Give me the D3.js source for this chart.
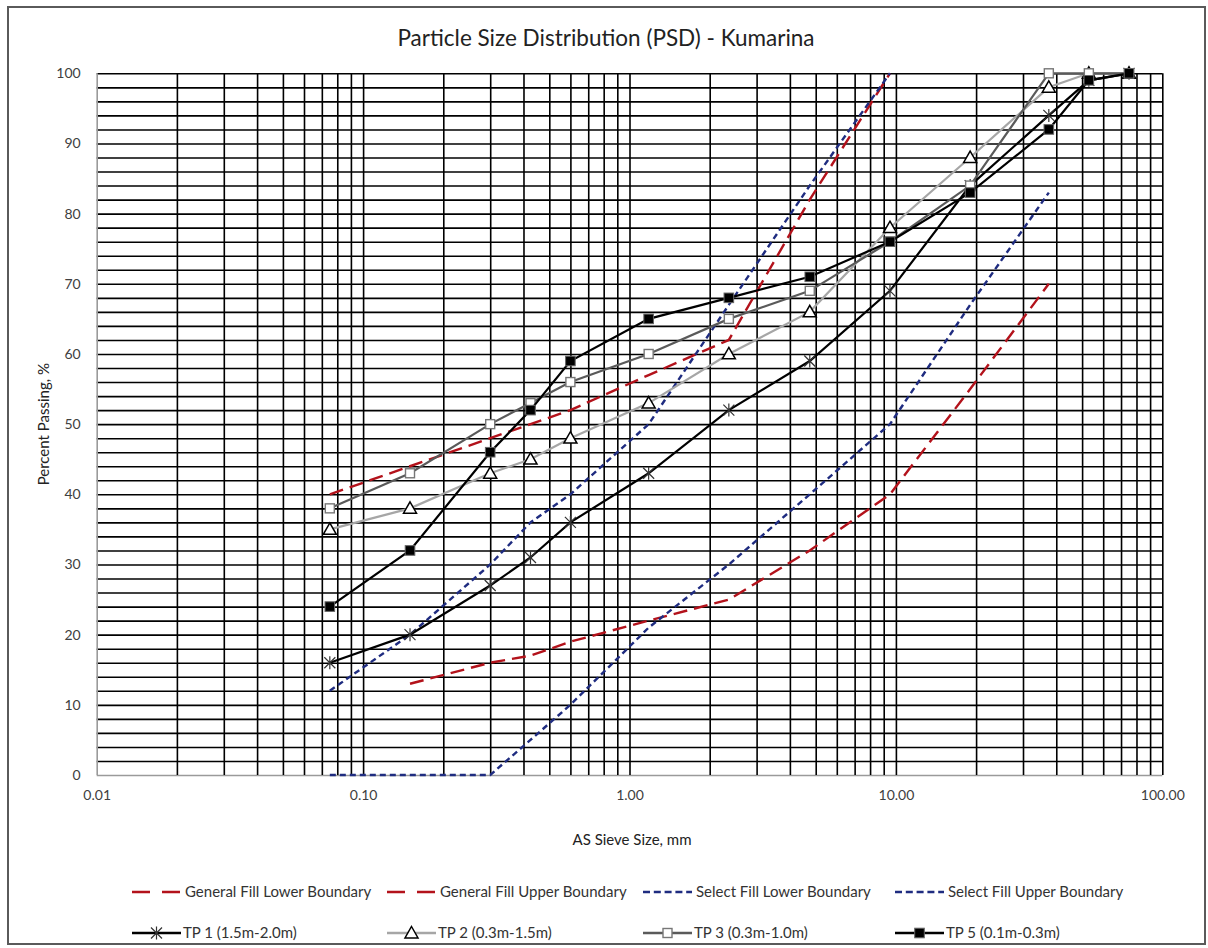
<!DOCTYPE html>
<html>
<head>
<meta charset="utf-8">
<script src="https://cdn.jsdelivr.net/npm/d3@7"></script>
<style>
  body { margin: 0; background: #fff; }
  svg { display: block; font-family: Lato, "Open Sans", sans-serif; }
</style>
</head>
<body>
<svg id="chart" width="1208" height="948"></svg>
<script>
// sieve sizes (mm) for the test pits
const sieveSizes = [0.075, 0.15, 0.3, 0.425, 0.6, 1.18, 2.36, 4.75, 9.5, 19, 37.5, 53, 75];

// percent passing for each test pit
const tp1 = [16, 20, 27, 31, 36, 43, 52, 59, 69, 84, 94, 99, 100];
const tp2 = [35, 38, 43, 45, 48, 53, 60, 66, 78, 88, 98, 100, 100];
const tp3 = [38, 43, 50, 53, 56, 60, 65, 69, 76, 84, 100, 100, 100];
const tp5 = [24, 32, 46, 52, 59, 65, 68, 71, 76, 83, 92, 99, 100];

// grading envelopes
const generalLowerSizes = [0.15, 0.3, 0.425, 0.6, 1.18, 2.36, 4.75, 9.5, 19, 37.5];
const generalLower = [13, 16, 17, 19, 22, 25, 32, 40, 55, 70];
const generalUpperSizes = [0.075, 0.15, 0.3, 0.425, 0.6, 1.18, 2.36, 4.75, 9.5];
const generalUpper = [40, 44, 48, 50, 52, 57, 62, 82, 100];
const selectLowerSizes = [0.075, 0.15, 0.3, 0.425, 0.6, 1.18, 2.36, 4.75, 9.5, 19, 37.5];
const selectLower = [0, 0, 0, 5, 10, 21, 30, 40, 50, 67, 83];
const selectUpperSizes = [0.075, 0.15, 0.3, 0.425, 0.6, 1.18, 2.36, 4.75, 9.5];
const selectUpper = [12, 20, 30, 36, 40, 50, 67, 84, 100];

const xTickValues = [0.01, 0.1, 1, 10, 100];
const yTickValues = [0, 10, 20, 30, 40, 50, 60, 70, 80, 90, 100];

const RED = "#b3121b";
const NAVY = "#1f2c80";

const svg = d3.select("#chart");

// outer chart border
svg.append("rect")
  .attr("x", 8).attr("y", 7)
  .attr("width", 1197).attr("height", 937)
  .attr("fill", "none")
  .attr("stroke", "#5a5a5a")
  .attr("stroke-width", 2);

const plotLeft = 96.7, plotRight = 1162.3, plotTop = 73.3, plotBottom = 775;

const x = d3.scaleLog().domain([0.01, 100]).range([plotLeft, plotRight]);
const y = d3.scaleLinear().domain([0, 100]).range([plotBottom, plotTop]);

// minor log values for vertical grid
const xGrid = [];
for (let d = -2; d <= 1; d++) {
  for (let k = 1; k <= 9; k++) xGrid.push(k * Math.pow(10, d));
}
xGrid.push(100);
const yGrid = d3.range(0, 101, 2);

// horizontal grid
svg.append("g")
  .attr("class", "ygrid")
  .attr("transform", `translate(${plotLeft},0)`)
  .call(d3.axisLeft(y).tickValues(yGrid).tickSize(-(plotRight - plotLeft)).tickFormat(""))
  .call(g => g.select(".domain").remove())
  .call(g => g.selectAll("line")
    .attr("stroke", d => d === 0 ? "#9a9a9a" : "#000")
    .attr("stroke-width", 1.6));

// vertical grid
svg.append("g")
  .attr("class", "xgrid")
  .attr("transform", `translate(0,${plotBottom})`)
  .call(d3.axisBottom(x).tickValues(xGrid).tickSize(-(plotBottom - plotTop)).tickFormat(""))
  .call(g => g.select(".domain").remove())
  .call(g => g.selectAll("line")
    .attr("stroke", d => Math.abs(d - 0.01) < 1e-9 ? "#9a9a9a" : "#000")
    .attr("stroke-width", 1.6));

// tick labels
svg.append("g")
  .attr("transform", `translate(0,${plotBottom + 12})`)
  .call(d3.axisBottom(x).tickValues(xTickValues).tickSize(0).tickFormat(d3.format(".2f")))
  .call(g => g.select(".domain").remove())
  .call(g => g.selectAll("text")
    .attr("font-family", "Lato, sans-serif")
    .attr("font-size", 14)
    .attr("fill", "#404040"));

svg.append("g")
  .attr("transform", `translate(${plotLeft - 13},0)`)
  .call(d3.axisLeft(y).tickValues(yTickValues).tickSize(0))
  .call(g => g.select(".domain").remove())
  .call(g => g.selectAll("text")
    .attr("font-family", "Lato, sans-serif")
    .attr("font-size", 14)
    .attr("fill", "#404040"));

// titles
svg.append("text")
  .attr("x", 606).attr("y", 46)
  .attr("text-anchor", "middle")
  .attr("font-size", 22.5)
  .attr("fill", "#222")
  .text("Particle Size Distribution (PSD) - Kumarina");

svg.append("text")
  .attr("x", 632).attr("y", 845)
  .attr("text-anchor", "middle")
  .attr("font-size", 15)
  .attr("fill", "#222")
  .text("AS Sieve Size, mm");

svg.append("text")
  .attr("transform", `translate(49,${(plotTop + plotBottom) / 2}) rotate(-90)`)
  .attr("text-anchor", "middle")
  .attr("font-size", 15)
  .attr("fill", "#222")
  .text("Percent Passing, %");

const line = d3.line()
  .x(d => x(d[0]))
  .y(d => y(d[1]));

const envelopes = [
  { name: "General Fill Lower Boundary", sizes: generalLowerSizes, values: generalLower, color: RED, dash: "14,7" },
  { name: "General Fill Upper Boundary", sizes: generalUpperSizes, values: generalUpper, color: RED, dash: "14,7" },
  { name: "Select Fill Lower Boundary", sizes: selectLowerSizes, values: selectLower, color: NAVY, dash: "6,4" },
  { name: "Select Fill Upper Boundary", sizes: selectUpperSizes, values: selectUpper, color: NAVY, dash: "6,4" }
];

const pits = [
  { name: "TP 1 (1.5m-2.0m)", values: tp1, color: "#000", marker: "star" },
  { name: "TP 2 (0.3m-1.5m)", values: tp2, color: "#a6a6a6", marker: "triangle" },
  { name: "TP 3 (0.3m-1.0m)", values: tp3, color: "#5a5a5a", marker: "square" },
  { name: "TP 5 (0.1m-0.3m)", values: tp5, color: "#000", marker: "filled" }
];

svg.append("g")
  .selectAll("path")
  .data(envelopes)
  .enter()
  .append("path")
  .attr("d", s => line(s.sizes.map((v, i) => [v, s.values[i]])))
  .attr("fill", "none")
  .attr("stroke", s => s.color)
  .attr("stroke-width", 2.4)
  .attr("stroke-dasharray", s => s.dash);

function drawMarker(g, type, cx, cy) {
  if (type === "star") {
    const r = 5.5;
    g.append("path")
      .attr("d", `M${cx - r},${cy - r}L${cx + r},${cy + r}M${cx - r},${cy + r}L${cx + r},${cy - r}M${cx},${cy - r - 1}L${cx},${cy + r + 1}`)
      .attr("stroke", "#333")
      .attr("stroke-width", 1.2)
      .attr("fill", "none");
  } else if (type === "triangle") {
    const r = 6.5;
    g.append("path")
      .attr("d", `M${cx},${cy - r}L${cx + r},${cy + r * 0.75}L${cx - r},${cy + r * 0.75}Z`)
      .attr("stroke", "#000")
      .attr("stroke-width", 1.5)
      .attr("fill", "#fff");
  } else if (type === "square") {
    const r = 4.5;
    g.append("rect")
      .attr("x", cx - r).attr("y", cy - r)
      .attr("width", 2 * r).attr("height", 2 * r)
      .attr("stroke", "#777")
      .attr("stroke-width", 1.4)
      .attr("fill", "#fff");
  } else {
    const r = 4.8;
    g.append("rect")
      .attr("x", cx - r).attr("y", cy - r)
      .attr("width", 2 * r).attr("height", 2 * r)
      .attr("stroke", "#666")
      .attr("stroke-width", 1)
      .attr("fill", "#000");
  }
}

pits.forEach(s => {
  const g = svg.append("g");
  g.append("path")
    .attr("d", line(sieveSizes.map((v, i) => [v, s.values[i]])))
    .attr("fill", "none")
    .attr("stroke", s.color)
    .attr("stroke-width", 2.2);
  sieveSizes.forEach((v, i) => drawMarker(g, s.marker, x(v), y(s.values[i])));
});

// legend
const legendCols = [132, 387, 643, 895];
const legend = svg.append("g").attr("font-size", 15).attr("fill", "#333");

envelopes.forEach((s, i) => {
  const lx = legendCols[i], ly = 892;
  legend.append("line")
    .attr("x1", lx).attr("x2", lx + 49)
    .attr("y1", ly).attr("y2", ly)
    .attr("stroke", s.color)
    .attr("stroke-width", 2.4)
    .attr("stroke-dasharray", s.color === RED ? "18,12" : "7,3.8");
  legend.append("text")
    .attr("x", lx + 53).attr("y", ly + 5)
    .text(s.name);
});

pits.forEach((s, i) => {
  const lx = legendCols[i], ly = 933;
  const g = legend.append("g");
  g.append("line")
    .attr("x1", lx).attr("x2", lx + 49)
    .attr("y1", ly).attr("y2", ly)
    .attr("stroke", s.color)
    .attr("stroke-width", 2.4);
  drawMarker(g, s.marker, lx + 24.5, ly);
  legend.append("text")
    .attr("x", lx + 51).attr("y", ly + 5)
    .text(s.name);
});
</script>
</body>
</html>
